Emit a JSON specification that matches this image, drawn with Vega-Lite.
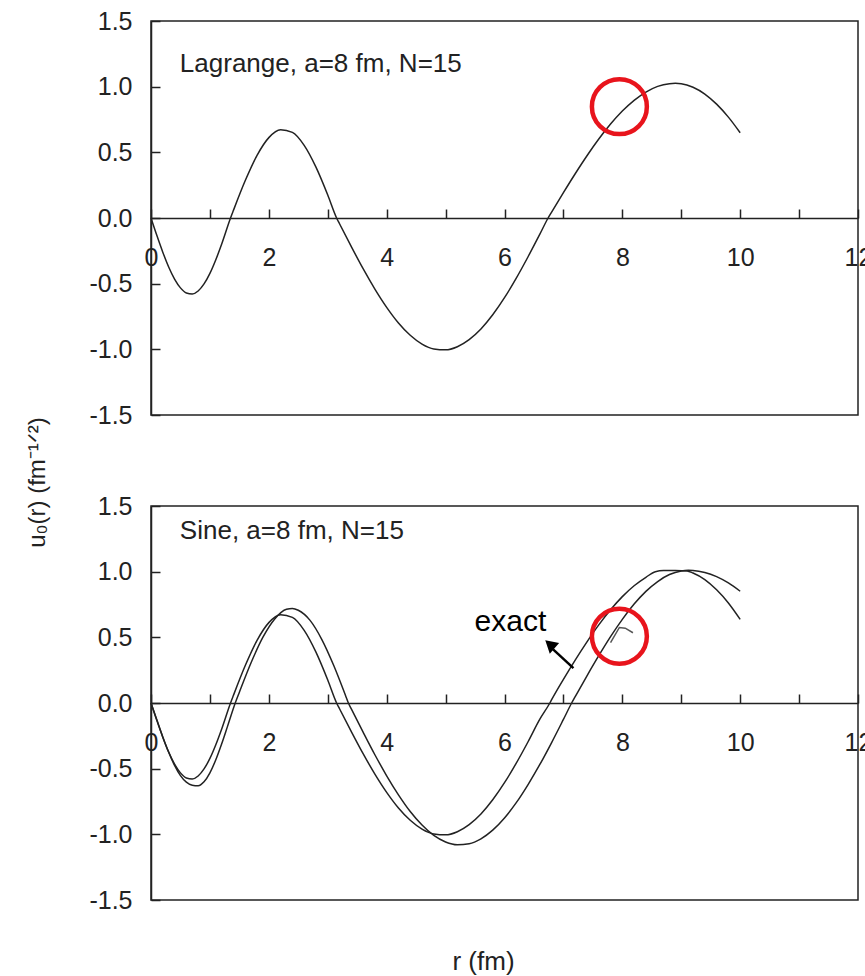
{
  "$schema": "https://vega.github.io/schema/vega-lite/v6.json",
  "background": "white",
  "padding": {"left": 24, "top": 8, "right": 0, "bottom": 0},
  "config": {
    "view": {"stroke": "#222", "strokeWidth": 1.5},
    "font": "Liberation Sans",
    "axis": {"grid": false, "labelFont": "Liberation Sans", "labelFontSize": 25, "labelColor": "#222", "tickColor": "#222", "domainColor": "#222", "tickWidth": 1.5, "domainWidth": 1.5, "titleFont": "Liberation Sans", "titleFontWeight": "normal", "titleColor": "#222"}
  },
  "datasets": {
    "lagrange": [
      {"r":0,"u":0},{"r":0.1,"u":-0.134},{"r":0.2,"u":-0.26},{"r":0.3,"u":-0.373},{"r":0.4,"u":-0.465},{"r":0.5,"u":-0.532},{"r":0.6,"u":-0.571},{"r":0.7,"u":-0.579},{"r":0.8,"u":-0.556},{"r":0.9,"u":-0.502},{"r":1.0,"u":-0.422},{"r":1.1,"u":-0.318},{"r":1.2,"u":-0.198},{"r":1.35,"u":0},{"r":1.4,"u":0.059},{"r":1.6,"u":0.285},{"r":1.8,"u":0.477},{"r":2.0,"u":0.612},{"r":2.2,"u":0.672},{"r":2.4,"u":0.652},{"r":2.6,"u":0.553},{"r":2.8,"u":0.387},{"r":3.0,"u":0.175},{"r":3.15,"u":0},{"r":3.2,"u":-0.044},{"r":3.4,"u":-0.218},{"r":3.6,"u":-0.386},{"r":3.8,"u":-0.541},{"r":4.0,"u":-0.68},{"r":4.2,"u":-0.799},{"r":4.4,"u":-0.893},{"r":4.6,"u":-0.96},{"r":4.8,"u":-0.997},{"r":5.0,"u":-1.004},{"r":5.2,"u":-0.98},{"r":5.4,"u":-0.926},{"r":5.6,"u":-0.845},{"r":5.8,"u":-0.737},{"r":6.0,"u":-0.607},{"r":6.2,"u":-0.458},{"r":6.4,"u":-0.295},{"r":6.6,"u":-0.123},{"r":6.74,"u":0},{"r":6.8,"u":0.045},{"r":7.0,"u":0.193},{"r":7.2,"u":0.337},{"r":7.4,"u":0.474},{"r":7.6,"u":0.601},{"r":7.8,"u":0.715},{"r":8.0,"u":0.814},{"r":8.2,"u":0.896},{"r":8.4,"u":0.959},{"r":8.6,"u":1.002},{"r":8.8,"u":1.023},{"r":8.9,"u":1.026},{"r":9.0,"u":1.023},{"r":9.2,"u":0.996},{"r":9.4,"u":0.944},{"r":9.6,"u":0.867},{"r":9.8,"u":0.768},{"r":10.0,"u":0.649}
    ],
    "sine": [
      {"s":"exact","r":0,"u":0},{"s":"exact","r":0.1,"u":-0.134},{"s":"exact","r":0.2,"u":-0.26},{"s":"exact","r":0.3,"u":-0.373},{"s":"exact","r":0.4,"u":-0.465},{"s":"exact","r":0.5,"u":-0.532},{"s":"exact","r":0.6,"u":-0.571},{"s":"exact","r":0.7,"u":-0.579},{"s":"exact","r":0.8,"u":-0.556},{"s":"exact","r":0.9,"u":-0.502},{"s":"exact","r":1.0,"u":-0.422},{"s":"exact","r":1.1,"u":-0.318},{"s":"exact","r":1.2,"u":-0.198},{"s":"exact","r":1.35,"u":0},{"s":"exact","r":1.4,"u":0.059},{"s":"exact","r":1.6,"u":0.285},{"s":"exact","r":1.8,"u":0.477},{"s":"exact","r":2.0,"u":0.612},{"s":"exact","r":2.2,"u":0.672},{"s":"exact","r":2.4,"u":0.652},{"s":"exact","r":2.6,"u":0.553},{"s":"exact","r":2.8,"u":0.387},{"s":"exact","r":3.0,"u":0.175},{"s":"exact","r":3.15,"u":0},{"s":"exact","r":3.2,"u":-0.044},{"s":"exact","r":3.4,"u":-0.218},{"s":"exact","r":3.6,"u":-0.386},{"s":"exact","r":3.8,"u":-0.541},{"s":"exact","r":4.0,"u":-0.68},{"s":"exact","r":4.2,"u":-0.799},{"s":"exact","r":4.4,"u":-0.893},{"s":"exact","r":4.6,"u":-0.96},{"s":"exact","r":4.8,"u":-0.997},{"s":"exact","r":5.0,"u":-1.004},{"s":"exact","r":5.2,"u":-0.98},{"s":"exact","r":5.4,"u":-0.926},{"s":"exact","r":5.6,"u":-0.845},{"s":"exact","r":5.8,"u":-0.737},{"s":"exact","r":6.0,"u":-0.607},{"s":"exact","r":6.2,"u":-0.458},{"s":"exact","r":6.4,"u":-0.295},{"s":"exact","r":6.6,"u":-0.123},{"s":"exact","r":6.77,"u":0},{"s":"exact","r":6.8,"u":0.025},{"s":"exact","r":7.0,"u":0.18},{"s":"exact","r":7.2,"u":0.327},{"s":"exact","r":7.4,"u":0.466},{"s":"exact","r":7.6,"u":0.595},{"s":"exact","r":7.8,"u":0.71},{"s":"exact","r":8.0,"u":0.81},{"s":"exact","r":8.2,"u":0.893},{"s":"exact","r":8.4,"u":0.957},{"s":"exact","r":8.56,"u":1.0},{"s":"exact","r":8.7,"u":1.008},{"s":"exact","r":8.9,"u":1.008},{"s":"exact","r":9.1,"u":1.006},{"s":"exact","r":9.2,"u":0.99},{"s":"exact","r":9.4,"u":0.94},{"s":"exact","r":9.6,"u":0.862},{"s":"exact","r":9.8,"u":0.762},{"s":"exact","r":10.0,"u":0.637},
      {"s":"sine","r":0,"u":0},{"s":"sine","r":0.1,"u":-0.13},{"s":"sine","r":0.2,"u":-0.258},{"s":"sine","r":0.3,"u":-0.375},{"s":"sine","r":0.4,"u":-0.475},{"s":"sine","r":0.5,"u":-0.553},{"s":"sine","r":0.6,"u":-0.603},{"s":"sine","r":0.7,"u":-0.626},{"s":"sine","r":0.8,"u":-0.63},{"s":"sine","r":0.9,"u":-0.6},{"s":"sine","r":1.0,"u":-0.532},{"s":"sine","r":1.1,"u":-0.432},{"s":"sine","r":1.2,"u":-0.31},{"s":"sine","r":1.3,"u":-0.176},{"s":"sine","r":1.43,"u":0},{"s":"sine","r":1.5,"u":0.082},{"s":"sine","r":1.7,"u":0.308},{"s":"sine","r":1.9,"u":0.501},{"s":"sine","r":2.1,"u":0.64},{"s":"sine","r":2.3,"u":0.714},{"s":"sine","r":2.4,"u":0.72},{"s":"sine","r":2.5,"u":0.706},{"s":"sine","r":2.7,"u":0.629},{"s":"sine","r":2.9,"u":0.483},{"s":"sine","r":3.1,"u":0.287},{"s":"sine","r":3.3,"u":0.059},{"s":"sine","r":3.35,"u":0},{"s":"sine","r":3.4,"u":-0.045},{"s":"sine","r":3.6,"u":-0.222},{"s":"sine","r":3.8,"u":-0.394},{"s":"sine","r":4.0,"u":-0.554},{"s":"sine","r":4.2,"u":-0.699},{"s":"sine","r":4.4,"u":-0.826},{"s":"sine","r":4.6,"u":-0.929},{"s":"sine","r":4.8,"u":-1.008},{"s":"sine","r":5.0,"u":-1.058},{"s":"sine","r":5.2,"u":-1.079},{"s":"sine","r":5.4,"u":-1.071},{"s":"sine","r":5.6,"u":-1.034},{"s":"sine","r":5.8,"u":-0.968},{"s":"sine","r":6.0,"u":-0.875},{"s":"sine","r":6.2,"u":-0.759},{"s":"sine","r":6.4,"u":-0.621},{"s":"sine","r":6.6,"u":-0.468},{"s":"sine","r":6.8,"u":-0.301},{"s":"sine","r":7.0,"u":-0.125},{"s":"sine","r":7.14,"u":0},{"s":"sine","r":7.2,"u":0.048},{"s":"sine","r":7.4,"u":0.207},{"s":"sine","r":7.6,"u":0.36},{"s":"sine","r":7.8,"u":0.505},{"s":"sine","r":8.0,"u":0.637},{"s":"sine","r":8.2,"u":0.753},{"s":"sine","r":8.4,"u":0.85},{"s":"sine","r":8.6,"u":0.925},{"s":"sine","r":8.8,"u":0.978},{"s":"sine","r":9.0,"u":1.005},{"s":"sine","r":9.12,"u":1.01},{"s":"sine","r":9.2,"u":1.009},{"s":"sine","r":9.4,"u":0.994},{"s":"sine","r":9.6,"u":0.962},{"s":"sine","r":9.8,"u":0.914},{"s":"sine","r":10.0,"u":0.851}
    ],
    "hook": [{"r":7.8,"u":0.46},{"r":7.95,"u":0.575},{"r":8.05,"u":0.57},{"r":8.18,"u":0.535}],
    "labels": [
      {"panel":"top","r":0.49,"u":1.114,"label":"Lagrange, a=8 fm, N=15"},
      {"panel":"bottom","r":0.49,"u":1.25,"label":"Sine, a=8 fm, N=15"}
    ],
    "notes": [{"r":6.1,"u":0.615,"label":"exact"}],
    "arrow": [{"r":7.17,"u":0.266,"r2":6.825,"u2":0.408}],
    "arrowhead": [{"r":6.77,"u":0.447}],
    "circles": [{"panel":"top","r":7.95,"u":0.848},{"panel":"bottom","r":7.95,"u":0.508}]
  },
  "spacing": 91,
  "bounds": "flush",
  "vconcat": [
    {
      "width": 707,
      "height": 394,
      "layer": [
        {
          "data": {"name": "lagrange"},
          "mark": {"type": "line", "interpolate": "monotone", "color": "#222", "strokeWidth": 1.5},
          "encoding": {
            "x": {"field": "r", "type": "quantitative", "scale": {"domain": [0, 12], "nice": false, "zero": false},
              "axis": {"orient": "bottom", "offset": -197, "values": [0,1,2,3,4,5,6,7,8,9,10,11,12], "labelExpr": "datum.value % 2 == 0 ? format(datum.value, 'd') : ''", "tickSize": -9, "labelPadding": 36, "labelFlush": false, "labelOverlap": false, "title": null}},
            "y": {"field": "u", "type": "quantitative", "scale": {"domain": [-1.5, 1.5], "nice": false},
              "axis": {"values": [-1.5,-1.25,-1,-0.75,-0.5,-0.25,0,0.25,0.5,0.75,1,1.25,1.5], "labelExpr": "(datum.value * 2) % 1 == 0 ? replace(format(datum.value, '.1f'), '\u2212', '-') : ''", "tickSize": -9, "labelPadding": 28, "labelFlush": false, "labelOverlap": false,
                "title": "u\u2080(r) (fm\u207b\u00b9\u141f\u00b2)", "titleFontSize": 24, "titleAngle": 270, "titleAlign": "center", "titleBaseline": "alphabetic", "titleX": -107, "titleY": 461}}
          }
        },
        {
          "data": {"name": "labels"},
          "transform": [{"filter": "datum.panel == 'top'"}],
          "mark": {"type": "text", "align": "left", "baseline": "alphabetic", "fontSize": 26, "color": "#222"},
          "encoding": {"x": {"field": "r", "type": "quantitative"}, "y": {"field": "u", "type": "quantitative"}, "text": {"field": "label"}}
        },
        {
          "data": {"name": "circles"},
          "transform": [{"filter": "datum.panel == 'top'"}],
          "mark": {"type": "point", "shape": "circle", "filled": false, "size": 3019, "strokeWidth": 4.5, "color": "#e8141c", "opacity": 1},
          "encoding": {"x": {"field": "r", "type": "quantitative"}, "y": {"field": "u", "type": "quantitative"}}
        }
      ]
    },
    {
      "width": 707,
      "height": 394,
      "layer": [
        {
          "data": {"name": "sine"},
          "mark": {"type": "line", "interpolate": "monotone", "color": "#222", "strokeWidth": 1.5},
          "encoding": {
            "x": {"field": "r", "type": "quantitative", "scale": {"domain": [0, 12], "nice": false, "zero": false},
              "axis": {"orient": "bottom", "offset": -197, "values": [0,1,2,3,4,5,6,7,8,9,10,11,12], "labelExpr": "datum.value % 2 == 0 ? format(datum.value, 'd') : ''", "tickSize": -9, "labelPadding": 36, "labelFlush": false, "labelOverlap": false,
                "title": "r (fm)", "titleFontSize": 26, "titleAlign": "center", "titleBaseline": "alphabetic", "titleX": 332, "titleY": 266}},
            "y": {"field": "u", "type": "quantitative", "scale": {"domain": [-1.5, 1.5], "nice": false},
              "axis": {"values": [-1.5,-1.25,-1,-0.75,-0.5,-0.25,0,0.25,0.5,0.75,1,1.25,1.5], "labelExpr": "(datum.value * 2) % 1 == 0 ? replace(format(datum.value, '.1f'), '\u2212', '-') : ''", "tickSize": -9, "labelPadding": 28, "labelFlush": false, "labelOverlap": false, "title": null}},
            "detail": {"field": "s"}
          }
        },
        {
          "data": {"name": "hook"},
          "mark": {"type": "line", "color": "#555", "strokeWidth": 1.5},
          "encoding": {"x": {"field": "r", "type": "quantitative"}, "y": {"field": "u", "type": "quantitative"}}
        },
        {
          "data": {"name": "labels"},
          "transform": [{"filter": "datum.panel == 'bottom'"}],
          "mark": {"type": "text", "align": "left", "baseline": "alphabetic", "fontSize": 26, "color": "#222"},
          "encoding": {"x": {"field": "r", "type": "quantitative"}, "y": {"field": "u", "type": "quantitative"}, "text": {"field": "label"}}
        },
        {
          "data": {"name": "notes"},
          "mark": {"type": "text", "align": "center", "baseline": "middle", "fontSize": 30, "color": "#000"},
          "encoding": {"x": {"field": "r", "type": "quantitative"}, "y": {"field": "u", "type": "quantitative"}, "text": {"field": "label"}}
        },
        {
          "data": {"name": "arrow"},
          "mark": {"type": "rule", "color": "#000", "strokeWidth": 2.5},
          "encoding": {"x": {"field": "r", "type": "quantitative"}, "y": {"field": "u", "type": "quantitative"}, "x2": {"field": "r2"}, "y2": {"field": "u2"}}
        },
        {
          "data": {"name": "arrowhead"},
          "mark": {"type": "point", "shape": "triangle-up", "filled": true, "size": 200, "angle": 311.5, "color": "#000", "opacity": 1},
          "encoding": {"x": {"field": "r", "type": "quantitative"}, "y": {"field": "u", "type": "quantitative"}}
        },
        {
          "data": {"name": "circles"},
          "transform": [{"filter": "datum.panel == 'bottom'"}],
          "mark": {"type": "point", "shape": "circle", "filled": false, "size": 3019, "strokeWidth": 4.5, "color": "#e8141c", "opacity": 1},
          "encoding": {"x": {"field": "r", "type": "quantitative"}, "y": {"field": "u", "type": "quantitative"}}
        }
      ]
    }
  ]
}
